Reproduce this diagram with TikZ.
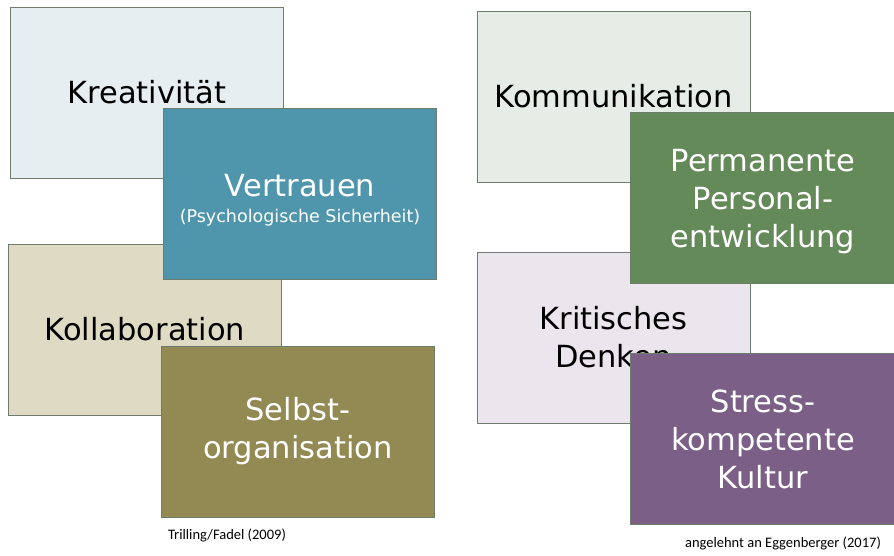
\documentclass[tikz,border=0pt]{standalone}
\usepackage{fontspec}
\setmainfont{DejaVu Sans}
\newfontfamily\notefont{Carlito}
\definecolor{bordercol}{HTML}{6E7C6E}
\definecolor{kreacol}{HTML}{E6EEF1}
\definecolor{vertcol}{HTML}{4F96AD}
\definecolor{kollcol}{HTML}{DFDAC3}
\definecolor{selbcol}{HTML}{938A53}
\definecolor{kommcol}{HTML}{E6EDE6}
\definecolor{permcol}{HTML}{658A5A}
\definecolor{kritcol}{HTML}{EBE6EE}
\definecolor{strecol}{HTML}{7B5F87}
\newcommand{\lowered}[2]{\raisebox{-#1}[\height][\depth]{\parbox{260pt}{\centering #2}}}
\tikzset{
  tile/.style={draw=bordercol, line width=0.9pt, rectangle, inner sep=0pt,
    minimum width=273pt, minimum height=171pt, align=center,
    font=\fontsize{30.5}{38}\selectfont},
  lighttile/.style={tile, text=black},
  darktile/.style={tile, text=white},
  note/.style={font=\notefont\fontsize{14.5}{16}\selectfont, text=black, inner sep=0pt}
}
\begin{document}
\begin{tikzpicture}[x=1pt,y=-1pt]
\useasboundingbox (0,0) rectangle (894,555);
% left group
\node[lighttile, fill=kreacol] (krea) at (147,92.5) {Kreativität};
\node[lighttile, fill=kollcol] (koll) at (145,329.5) {Kollaboration};
\node[darktile, fill=vertcol] (vert) at (300,194) {\lowered{6pt}{Vertrauen\\[-12pt]{\fontsize{17.5}{20}\selectfont(Psychologische Sicherheit)}}};
\node[darktile, fill=selbcol] (selb) at (298,431.5) {Selbst-\\organisation};
\node[note] (trill) at (227,535) {Trilling/Fadel (2009)};
% right group
\node[lighttile, fill=kommcol] (komm) at (613.5,96.5) {Kommunikation};
\node[lighttile, fill=kritcol] (krit) at (613.5,337.5) {Kritisches\\Denken};
\node[darktile, fill=permcol, minimum width=265pt] (perm) at (763,197.5) {\lowered{4pt}{Permanente\\Personal-\\entwicklung}};
\node[darktile, fill=strecol, minimum width=265pt] (stre) at (763,439) {Stress-\\kompetente\\Kultur};
\node[note] (eggen) at (783,543) {angelehnt an Eggenberger (2017)};
\end{tikzpicture}
\end{document}
